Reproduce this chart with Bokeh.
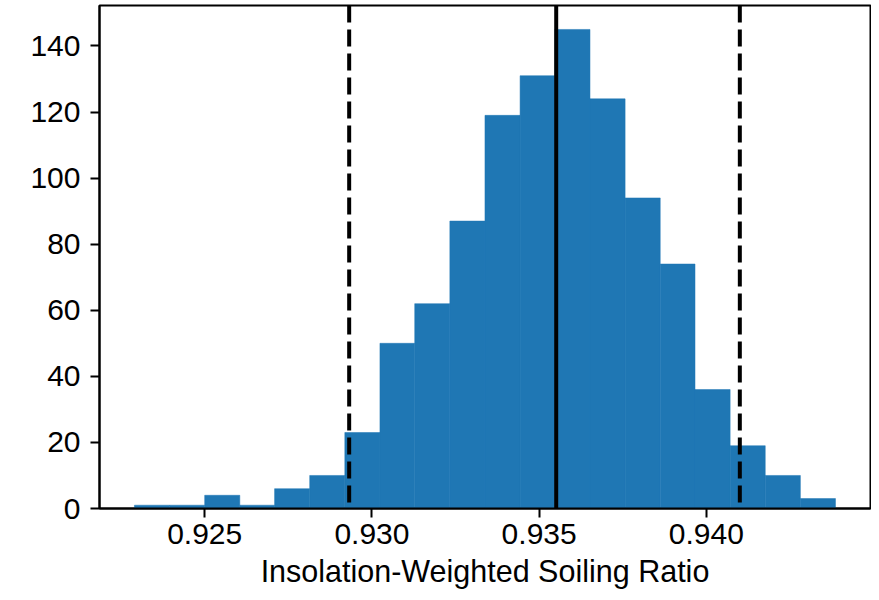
from bokeh.plotting import figure
from bokeh.models import Span, FixedTicker, Range1d, ColumnDataSource, NumeralTickFormatter
from bokeh.embed import file_html
from bokeh.resources import INLINE

# Histogram data
bin_edges = [0.92290, 0.92395, 0.92500, 0.92605, 0.92709, 0.92814, 0.92919,
             0.93024, 0.93128, 0.93233, 0.93338, 0.93443, 0.93547, 0.93652,
             0.93757, 0.93862, 0.93966, 0.94071, 0.94176, 0.94281, 0.94386]
counts = [1, 1, 4, 1, 6, 10, 23, 50, 62, 87, 119, 131, 145, 124, 94, 74, 36, 19, 10, 3]

median_value = 0.93551
lower_bound = 0.92932
upper_bound = 0.94100

x_ticks = [0.925, 0.930, 0.935, 0.940]
y_ticks = [0, 20, 40, 60, 80, 100, 120, 140]
x_label = "Insolation-Weighted Soiling Ratio"

FONT = "Liberation Sans"

src = ColumnDataSource(dict(left=bin_edges[:-1], right=bin_edges[1:],
                            top=counts, bottom=[0] * len(counts)))

p = figure(width=871, height=592, output_backend="svg", toolbar_location=None,
           x_range=Range1d(0.921855, 0.944907), y_range=Range1d(0, 152.25),
           min_border_left=99, min_border_right=1, min_border_top=5,
           min_border_bottom=84)

p.quad(left="left", right="right", top="top", bottom="bottom", source=src,
       fill_color="#1f77b4", line_color="#1f77b4", line_width=0.5)

for loc, dash in [(lower_bound, "17 7"), (median_value, "solid"), (upper_bound, "17 7")]:
    p.add_layout(Span(location=loc, dimension="height", line_color="black",
                      line_width=4, line_dash=dash))

p.xgrid.visible = False
p.ygrid.visible = False
p.outline_line_color = "black"
p.outline_line_width = 2
p.outline_line_alpha = 1
p.background_fill_color = "white"
p.border_fill_color = "white"

p.xaxis.ticker = FixedTicker(ticks=x_ticks)
p.xaxis.formatter = NumeralTickFormatter(format="0.000")
p.yaxis.ticker = FixedTicker(ticks=y_ticks)

for ax in (p.xaxis[0], p.yaxis[0]):
    ax.axis_line_width = 2
    ax.axis_line_color = "black"
    ax.major_tick_line_width = 2
    ax.major_tick_line_color = "black"
    ax.major_tick_out = 9
    ax.major_tick_in = 0
    ax.minor_tick_line_color = None
    ax.major_label_text_font = FONT
    ax.major_label_text_font_size = "30px"
    ax.major_label_text_color = "black"

p.xaxis.major_label_standoff = 6
p.yaxis.major_label_standoff = 10
p.xaxis.axis_label = x_label
p.xaxis.axis_label_text_font = FONT
p.xaxis.axis_label_text_font_size = "30.5px"
p.xaxis.axis_label_text_font_style = "normal"
p.xaxis.axis_label_text_color = "black"
p.xaxis.axis_label_standoff = 7

open("out.html", "w").write(file_html(p, INLINE))
